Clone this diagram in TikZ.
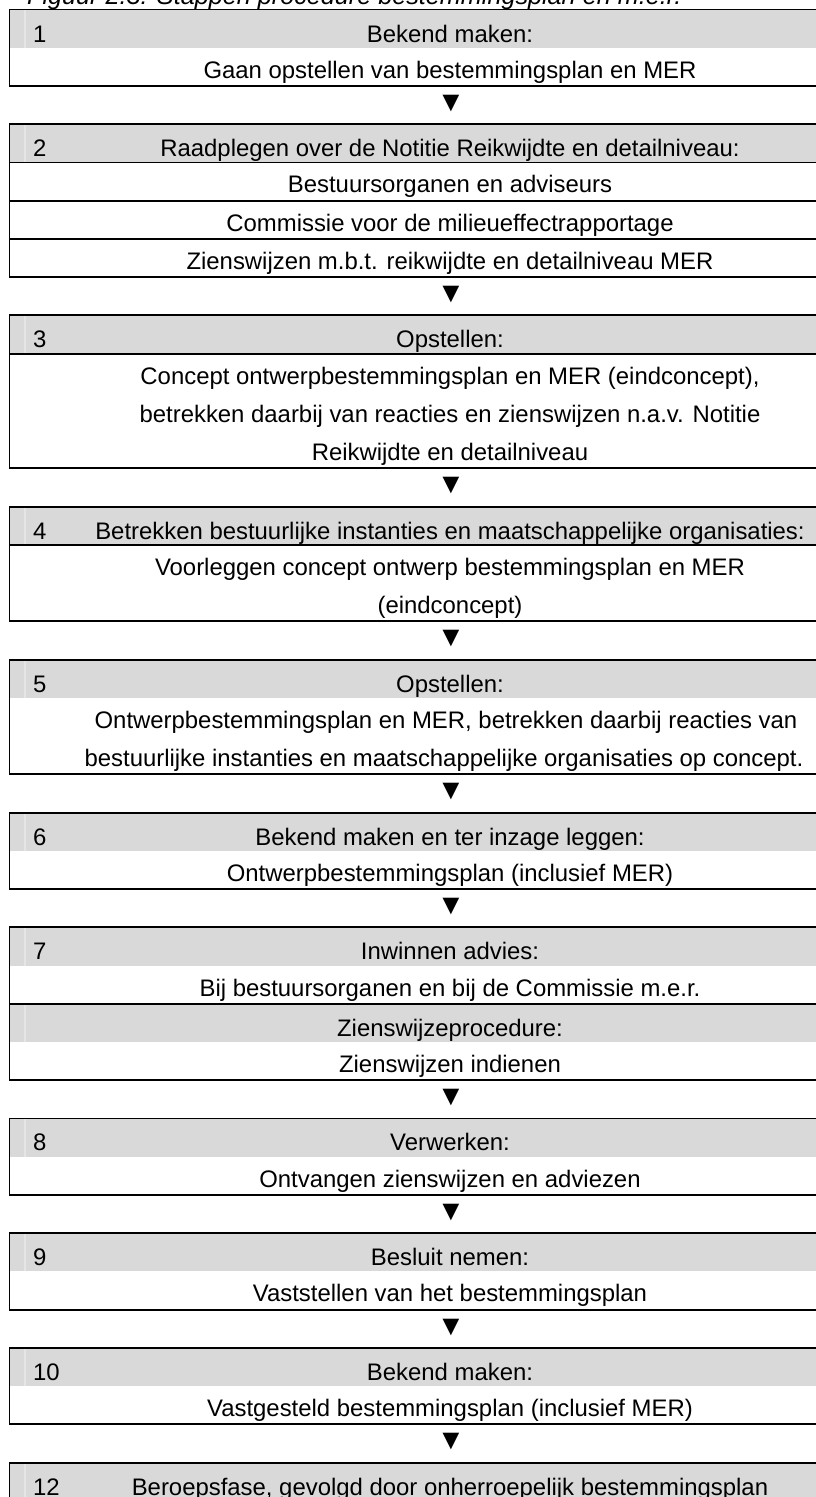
\documentclass[tikz,border=0pt]{standalone}
\usepackage{fontspec}
\setmainfont{Liberation Sans}
\definecolor{hdrgrey}{RGB}{217,217,217}
\definecolor{stripegrey}{RGB}{229,229,229}
\def\rowT{9.5}
\def\rowP{38.24}
\newcommand\mybodytxt[4][450]{\node[txt] (#2) at (#1,\rowT+\rowP*#3+30.5) {#4};}
\newcommand\myhdrtxt[3]{\node[txt] (#1) at (450,\rowT+\rowP*#2+32.5) {#3};}
\newcommand\myhdrnum[3]{\node[numtxt] (#1) at (33,\rowT+\rowP*#2+32.5) {#3};}
\newcommand\mydownmark[2]{\node[downtri] (#1) at (451,\rowT+\rowP*#2+17.5) {▼};}
\newcommand\myhdrband[1]{\fill[hdrgrey] (10,\rowT+\rowP*#1) rectangle (816,\rowT+\rowP*#1+\rowP);
  \draw[stripe] (24.5,\rowT+\rowP*#1) -- (24.5,\rowT+\rowP*#1+\rowP);}
\newcommand\myframe[2]{\draw[rule] (816,\rowT+\rowP*#1) -- (9.5,\rowT+\rowP*#1) -- (9.5,\rowT+\rowP*#2) -- (816,\rowT+\rowP*#2);}
\newcommand\myrowline[1]{\draw[rule] (9.5,\rowT+\rowP*#1) -- (816,\rowT+\rowP*#1);}
\begin{document}
\begin{tikzpicture}[x=1pt,y=-1pt,
  rule/.style={line width=1.9pt,black,line join=miter},
  stripe/.style={line width=2pt,stripegrey},
  txt/.style={anchor=base,inner sep=0pt,font=\fontsize{23.9}{28}\selectfont},
  numtxt/.style={txt,anchor=base west},
  downtri/.style={inner sep=0pt,font=\fontsize{28.5}{30}\selectfont},
  titletxt/.style={anchor=base west,inner sep=0pt,font=\fontsize{25.2}{30}\selectfont\itshape}]
\useasboundingbox (0,0) rectangle (816,1497);
\clip (0,0) rectangle (816,1497);
\fill[white] (0,0) rectangle (816,1497);
% title (cut off at the top)
\node[titletxt] (title) at (27,4) {Figuur 2.3: Stappen procedure bestemmingsplan en m.e.r.};
% grey header bands
\myhdrband{0}
\myhdrband{3}
\myhdrband{8}
\myhdrband{13}
\myhdrband{17}
\myhdrband{21}
\myhdrband{24}
\myhdrband{26}
\myhdrband{29}
\myhdrband{32}
\myhdrband{35}
\myhdrband{38}
% frames
\myframe{0}{2}
\myframe{3}{7}
\myrowline{4}\myrowline{5}\myrowline{6}
\myframe{8}{12}
\myrowline{9}
\myframe{13}{16}
\myrowline{14}
\myframe{17}{20}
\myframe{21}{23}
\myframe{24}{28}
\myrowline{26}
\myframe{29}{31}
\myframe{32}{34}
\myframe{35}{37}
\draw[rule] (816,\rowT+\rowP*38) -- (9.5,\rowT+\rowP*38) -- (9.5,1510);
% box 1
\myhdrnum{n1}{0}{1}
\myhdrtxt{h1}{0}{Bekend maken:}
\mybodytxt{b1}{1}{Gaan opstellen van bestemmingsplan en MER}
\mydownmark{a1}{2}
% box 2
\myhdrnum{n2}{3}{2}
\myhdrtxt{h2}{3}{Raadplegen over de Notitie Reikwijdte en detailniveau:}
\mybodytxt{b2a}{4}{Bestuursorganen en adviseurs}
\mybodytxt{b2b}{5}{Commissie voor de milieueffectrapportage}
\mybodytxt{b2c}{6}{Zienswijzen m.b.t. reikwijdte en detailniveau MER}
\mydownmark{a2}{7}
% box 3
\myhdrnum{n3}{8}{3}
\myhdrtxt{h3}{8}{Opstellen:}
\mybodytxt{b3a}{9}{Concept ontwerpbestemmingsplan en MER (eindconcept),}
\mybodytxt{b3b}{10}{betrekken daarbij van reacties en zienswijzen n.a.v. Notitie}
\mybodytxt{b3c}{11}{Reikwijdte en detailniveau}
\mydownmark{a3}{12}
% box 4
\myhdrnum{n4}{13}{4}
\myhdrtxt{h4}{13}{Betrekken bestuurlijke instanties en maatschappelijke organisaties:}
\mybodytxt{b4a}{14}{Voorleggen concept ontwerp bestemmingsplan en MER}
\mybodytxt{b4b}{15}{(eindconcept)}
\mydownmark{a4}{16}
% box 5
\myhdrnum{n5}{17}{5}
\myhdrtxt{h5}{17}{Opstellen:}
\mybodytxt[446]{b5a}{18}{Ontwerpbestemmingsplan en MER, betrekken daarbij reacties van}
\mybodytxt[444]{b5b}{19}{bestuurlijke instanties en maatschappelijke organisaties op concept.}
\mydownmark{a5}{20}
% box 6
\myhdrnum{n6}{21}{6}
\myhdrtxt{h6}{21}{Bekend maken en ter inzage leggen:}
\mybodytxt{b6}{22}{Ontwerpbestemmingsplan (inclusief MER)}
\mydownmark{a6}{23}
% box 7
\myhdrnum{n7}{24}{7}
\myhdrtxt{h7}{24}{Inwinnen advies:}
\mybodytxt{b7a}{25}{Bij bestuursorganen en bij de Commissie m.e.r.}
\myhdrtxt{h7b}{26}{Zienswijzeprocedure:}
\mybodytxt{b7b}{27}{Zienswijzen indienen}
\mydownmark{a7}{28}
% box 8
\myhdrnum{n8}{29}{8}
\myhdrtxt{h8}{29}{Verwerken:}
\mybodytxt{b8}{30}{Ontvangen zienswijzen en adviezen}
\mydownmark{a8}{31}
% box 9
\myhdrnum{n9}{32}{9}
\myhdrtxt{h9}{32}{Besluit nemen:}
\mybodytxt{b9}{33}{Vaststellen van het bestemmingsplan}
\mydownmark{a9}{34}
% box 10
\myhdrnum{n10}{35}{10}
\myhdrtxt{h10}{35}{Bekend maken:}
\mybodytxt{b10}{36}{Vastgesteld bestemmingsplan (inclusief MER)}
\mydownmark{a10}{37}
% box 12
\myhdrnum{n12}{38}{12}
\myhdrtxt{h12}{38}{Beroepsfase, gevolgd door onherroepelijk bestemmingsplan}
\end{tikzpicture}
\end{document}
